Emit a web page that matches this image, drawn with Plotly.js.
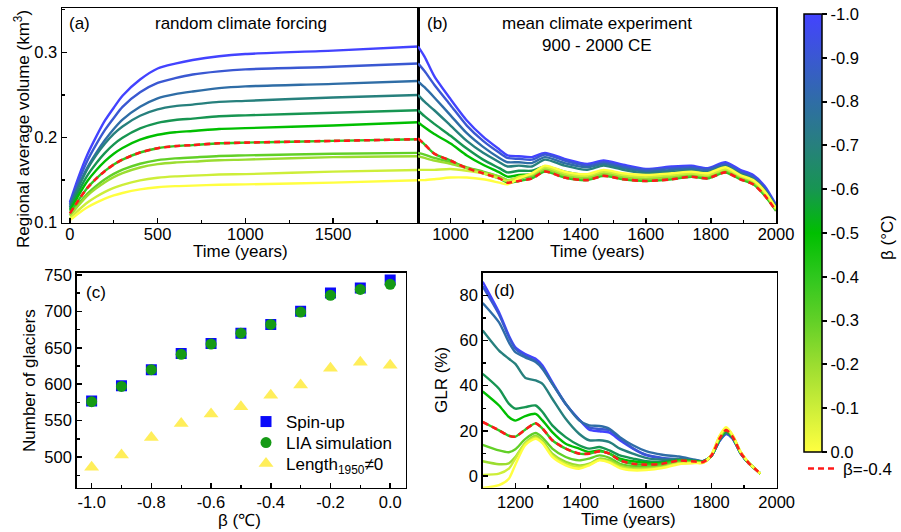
<!DOCTYPE html>
<html><head><meta charset="utf-8">
<script src="https://cdn.plot.ly/plotly-3.0.1.min.js"></script>
<style>html,body{margin:0;padding:0;background:#fff;}#plot{width:901px;height:532px;}</style>
</head><body><div id="plot"></div>
<script>
// ---- categories / colours ----
const betas = [-1.0,-0.9,-0.8,-0.7,-0.6,-0.5,-0.4,-0.3,-0.2,-0.1,0.0];
const betaLabels = ['-1.0','-0.9','-0.8','-0.7','-0.6','-0.5','-0.4','-0.3','-0.2','-0.1','0.0'];
const lineColors = ['#4343ff','#3a58d2','#2f6da6','#27807d','#179552','#00bf00','#2fc71e','#62d027','#9bdd30','#cdee39','#ffff40'];

// ---- panel (a): random climate forcing ----
const timeA = [0,50,100,150,200,250,300,400,500,600,700,850,1000,1500,2000];
const volA_m10 = [.124,.154,.180,.201,.220,.235,.249,.268,.281,.2867,.291,.2954,.298,.302,.307];
const volA_m09 = [.122,.149,.173,.192,.209,.223,.236,.253,.264,.2697,.274,.2776,.280,.283,.287];
const volA_m08 = [.120,.144,.165,.182,.197,.210,.221,.236,.246,.2509,.254,.2579,.260,.263,.2665];
const volA_m07 = [.118,.1418,.163,.1793,.193,.2043,.213,.2255,.233,.2368,.2386,.2418,.243,.247,.250];
const volA_m06 = [.116,.1369,.1556,.1699,.182,.1919,.1996,.2106,.2172,.2205,.2222,.2249,.226,.229,.232];
const volA_m05 = [.114,.1324,.1489,.1615,.1722,.1809,.1877,.1974,.2032,.2062,.2076,.2100,.211,.214,.218];
const volA_m04 = [.111,.1268,.1409,.1517,.1608,.1683,.1741,.1824,.1874,.1899,.1911,.1932,.194,.196,.198];
const volA_m03 = [.109,.1223,.1342,.1433,.151,.1573,.1622,.1692,.1734,.1755,.1766,.1783,.179,.181,.182];
const volA_m02 = [.108,.1205,.1318,.1403,.1476,.1535,.1582,.1648,.1687,.1707,.1717,.1733,.174,.177,.178];
const volA_m01 = [.105,.1149,.1237,.1305,.1362,.1409,.1445,.1497,.1528,.1544,.1552,.1565,.157,.160,.162];
const volA_p00 = [.103,.111,.1181,.1236,.1282,.132,.1349,.1391,.1416,.1429,.1435,.1446,.145,.147,.150];
const volA = [volA_m10,volA_m09,volA_m08,volA_m07,volA_m06,volA_m05,volA_m04,volA_m03,volA_m02,volA_m01,volA_p00];

// ---- panel (b): mean climate experiment 900-2000 CE ----
const yearB = [900,920,950,1000,1050,1100,1150,1175,1210,1250,1290,1350,1420,1470,1530,1600,1680,1740,1790,1845,1890,1930,1965,2000];
const volB_m10 = [.307,.295,.272,.245,.220,.201,.186,.179,.178,.177,.182,.175,.169,.173,.168,.163,.166,.167,.164,.171,.162,.156,.143,.121];
const volB_m09 = [.287,.278,.262,.238,.214,.196,.182,.176,.175,.174,.180,.173,.167,.171,.166,.162,.164,.165,.163,.169,.160,.154,.141,.120];
const volB_m08 = [.266,.259,.247,.226,.205,.189,.176,.171,.171,.170,.177,.170,.165,.169,.164,.160,.162,.163,.161,.167,.158,.152,.139,.119];
const volB_m07 = [.250,.242,.232,.214,.196,.182,.171,.166,.167,.166,.174,.167,.162,.167,.162,.158,.160,.161,.159,.166,.157,.151,.138,.118];
const volB_m06 = [.232,.225,.216,.202,.187,.174,.164,.159,.161,.161,.166,.160,.156,.161,.156,.152,.154,.157,.155,.162,.154,.148,.135,.116];
const volB_m05 = [.218,.212,.204,.193,.179,.168,.159,.154,.156,.157,.163,.156,.154,.159,.154,.150,.152,.155,.153,.160,.152,.146,.133,.115];
const volB_m04 = [.199,.192,.181,.173,.164,.158,.152,.147,.149,.152,.160,.153,.150,.155,.151,.149,.151,.154,.152,.159,.151,.145,.132,.114];
const volB_m03 = [.182,.180,.176,.171,.165,.160,.154,.150,.152,.155,.162,.155,.152,.157,.153,.151,.153,.156,.154,.161,.153,.147,.134,.115];
const volB_m02 = [.178,.176,.173,.169,.164,.159,.154,.150,.153,.156,.163,.156,.153,.158,.154,.152,.154,.157,.155,.162,.154,.148,.135,.116];
const volB_m01 = [.162,.162,.162,.163,.161,.158,.152,.149,.154,.157,.165,.158,.155,.160,.156,.154,.156,.158,.156,.163,.155,.149,.136,.116];
const volB_p00 = [.150,.150,.151,.153,.153,.151,.147,.145,.152,.158,.167,.160,.157,.162,.158,.156,.158,.160,.158,.165,.156,.150,.137,.117];
const volB = [volB_m10,volB_m09,volB_m08,volB_m07,volB_m06,volB_m05,volB_m04,volB_m03,volB_m02,volB_m01,volB_p00];

// ---- panel (c): number of glaciers ----
const spinUp   = [577,598,620,642,656,670,682,700,725,732,743];
const liaSim   = [576,597,620,641,655,670,682,699,722,730,737];
const length1950 = [486,503,527,546,559,569,585,599,622,630,626];
const legendNames = ['Spin-up','LIA simulation','Length<sub>1950</sub>≠0'];

// ---- panel (d): GLR (%) ----
const yearD = [1100,1150,1180,1200,1230,1262,1283,1313,1354,1395,1426,1457,1488,1520,1560,1600,1650,1700,1750,1775,1800,1825,1845,1865,1890,1915,1935,1950];
const glr_m10 = [86,72.5,62.2,57,54,51.9,48.9,41.5,32,25,20.5,19.8,19.2,15.8,12.1,9.2,7.8,7.3,6.8,6.5,8.8,15.5,18.6,16.5,9.8,5.5,3.0,1.0];
const glr_m09 = [84,71.5,61.5,56.3,53.2,51,48,41,31.8,25,21.5,20.8,20.3,16.6,12.3,9.4,8.0,7.4,6.8,6.5,8.8,15.6,18.7,16.6,9.9,5.5,3.0,1.0];
const glr_m08 = [76.6,68,59.2,54.8,52.5,50.4,47.4,40.8,32,24.6,22.4,22.1,20.9,17.2,13.6,11.0,9.4,8.6,7.2,6.6,8.8,15.8,18.9,16.8,10,5.6,3.0,1.0];
const glr_m07 = [64.4,55.5,51.9,49.6,43.5,42.3,40.8,34.2,25.3,18.7,15.8,15.8,15,12.1,9.9,8.0,7.2,7.4,6.8,6.4,8.9,16,19.3,17,10,5.6,3.0,0.9];
const glr_m06 = [45.2,38.6,32,29.8,30.5,31.2,28.3,22.4,17.2,13.6,12.1,12.8,11.3,9.1,7.7,6.5,6.2,7.0,6.6,6.3,9.0,16.2,19.8,17.2,10.1,5.6,3.0,0.9];
const glr_m05 = [37.4,31.2,26.1,24.5,26.5,27.5,24.6,19.4,14.3,12.1,10.6,11.3,9.9,7.7,6.5,5.8,5.8,6.9,6.5,6.3,9.0,16.4,20.1,17.3,10.2,5.6,3.0,0.9];
const glr_m04 = [23.9,20.2,17.8,17.4,20.5,23.3,21,15.8,12.1,9.9,9.9,10.9,9.9,6.9,5.4,5.0,5.4,6.8,6.4,6.2,9.0,16.5,20.3,17.4,10.2,5.6,3.0,1.0];
const glr_m03 = [13.8,11.3,10.5,11.8,16.3,19,17,12.1,8.4,6.9,7.7,9.1,8.0,5.4,4.4,4.2,4.8,6.2,6.1,6.1,9.1,16.8,20.6,17.6,10.3,5.7,3.0,1.0];
const glr_m02 = [6.5,5.2,5.6,8.4,14.5,17.8,15.5,9.9,6.2,4.7,5.4,7.7,6.9,4.7,3.5,3.5,4.2,5.8,5.9,6.0,9.2,17.2,21.0,17.8,10.4,5.7,3.0,1.0];
const glr_m01 = [0.5,1.0,3.2,7.7,14.3,17.0,14.8,9.1,5.4,4.0,5.0,7.2,6.2,4.0,2.9,3.0,3.8,5.5,5.8,5.9,9.3,17.5,21.3,18.0,10.5,5.8,3.0,1.0];
const glr_p00 = [-5.3,-4.1,-1.2,5.0,13.6,16.5,14.5,8.4,4.7,3.2,4.7,6.9,5.9,3.5,2.5,2.6,3.5,5.2,5.7,5.8,9.4,17.8,21.6,18.2,10.6,5.8,3.0,1.0];
const glrD = [glr_m10,glr_m09,glr_m08,glr_m07,glr_m06,glr_m05,glr_m04,glr_m03,glr_m02,glr_m01,glr_p00];

const REF_IDX = 6; // beta = -0.4
const FONT = 'Liberation Sans, Arial, Helvetica, sans-serif';
const W = 901, H = 532;
const px = v => v / W, py = v => 1 - v / H;

const traces = [];
function addLines(xs, ys, xa, ya) {
  ys.forEach((y, i) => traces.push({type:'scatter', mode:'lines', x:xs, y:y, xaxis:xa, yaxis:ya,
    line:{color:lineColors[i], width:2.4, shape:'spline', smoothing:0.7}, showlegend:false, hoverinfo:'skip'}));
  traces.push({type:'scatter', mode:'lines', x:xs, y:ys[REF_IDX], xaxis:xa, yaxis:ya,
    line:{color:'#ff1a1a', width:2.6, dash:'6px,4px', shape:'spline', smoothing:0.7},
    name:'β=-0.4', legend:'legend2', showlegend: xa === 'x', hoverinfo:'skip'});
}
addLines(timeA, volA, 'x', 'y');
addLines(yearB, volB, 'x2', 'y2');
addLines(yearD, glrD, 'x4', 'y4');

traces.push({type:'scatter', mode:'markers', x:betas, y:spinUp, xaxis:'x3', yaxis:'y3', name:legendNames[0], legend:'legend',
  marker:{symbol:'square', size:11, color:'#0a0afa'}});
traces.push({type:'scatter', mode:'markers', x:betas, y:liaSim, xaxis:'x3', yaxis:'y3', name:legendNames[1], legend:'legend3',
  marker:{symbol:'circle', size:11, color:'#159a15'}});
traces.push({type:'scatter', mode:'markers', x:betas, y:length1950, xaxis:'x3', yaxis:'y3', name:legendNames[2], legend:'legend4',
  marker:{symbol:'triangle-up', size:13, color:'#ffee5a'}});

// colour bar (z = -beta so -1.0 sits at the top)
const cscale = lineColors.map((c, i) => [ -betas[i], c ]).reverse();
traces.push({type:'scatter', mode:'markers', x:[null], y:[null], xaxis:'x', yaxis:'y', showlegend:false, hoverinfo:'skip',
  marker:{color:[0], cmin:0, cmax:1, colorscale:cscale, showscale:true,
    colorbar:{x:px(804), xanchor:'left', y:py(14), yanchor:'top', len:(452-14)/H, lenmode:'fraction',
      thickness:18, thicknessmode:'pixels', xpad:0, ypad:0, outlinewidth:1.5, outlinecolor:'black',
      ticks:'outside', ticklen:5, tickwidth:2, tickcolor:'black',
      tickmode:'array', tickvals:betas.map(b => -b), ticktext:betaLabels,
      tickfont:{size:16.5, family:FONT, color:'black'}}}});

const base = {showline:true, linecolor:'black', linewidth:1.5, mirror:true, ticks:'inside', ticklen:5,
  tickwidth:1.5, tickcolor:'black', showgrid:false, zeroline:false,
  tickfont:{size:16.5, family:FONT, color:'black'}};
const minor = d => ({dtick:d, ticks:'inside', ticklen:3, tickwidth:1.3, tickcolor:'black', showgrid:false});

const topDom = [py(222.7), py(8)];
const botDom = [py(487.7), py(272.7)];
const legFont = {size:17, family:FONT, color:'black'};
const legBase = {xanchor:'left', yanchor:'top', bgcolor:'rgba(0,0,0,0)', borderwidth:0, font:legFont};

const layout = {
  width:W, height:H, margin:{l:0, r:0, t:0, b:0}, paper_bgcolor:'white', plot_bgcolor:'white',
  font:{family:FONT, size:17, color:'black'},
  xaxis: Object.assign({}, base, {domain:[px(62), px(418)], anchor:'y', range:[-45, 1984], tick0:0, dtick:500,
    minor:minor(250), ticklabelstandoff:-4}),
  yaxis: Object.assign({}, base, {domain:topDom, anchor:'x', range:[0.1, 0.352], dtick:0.1, tick0:0, tickformat:'.1f',
    minor:minor(0.05)}),
  xaxis2: Object.assign({}, base, {domain:[px(418), px(776)], anchor:'y2', range:[900, 2000], dtick:200, tick0:0,
    minor:minor(100), ticklabelstandoff:-4}),
  yaxis2: Object.assign({}, base, {domain:topDom, anchor:'x2', matches:'y', showticklabels:false, ticks:''}),
  xaxis3: Object.assign({}, base, {domain:[px(76.7), px(405.7)], anchor:'y3', range:[-1.05, 0.052],
    tickmode:'array', tickvals:betas.filter((b, i) => i % 2 === 0), ticktext:betaLabels.filter((b, i) => i % 2 === 0),
    minor:{tickmode:'array', tickvals:betas, ticks:'inside', ticklen:3, tickwidth:1.3, tickcolor:'black', showgrid:false},
    ticklabelstandoff:-1}),
  yaxis3: Object.assign({}, base, {domain:botDom, anchor:'x3', range:[458, 753], dtick:50, tick0:0,
    minor:minor(25)}),
  xaxis4: Object.assign({}, base, {domain:[px(482.7), px(776.7)], anchor:'y4', range:[1100, 2000], dtick:200, tick0:0,
    minor:minor(100), ticklabelstandoff:-1}),
  yaxis4: Object.assign({}, base, {domain:botDom, anchor:'x4', range:[-5.2, 90], dtick:20, tick0:0,
    minor:minor(10)}),
  legend: Object.assign({x:px(246), y:py(404)}, legBase),
  legend3: Object.assign({x:px(246), y:py(425)}, legBase),
  legend4: Object.assign({x:px(246), y:py(446)}, legBase),
  legend2: Object.assign({x:px(803), y:py(451)}, legBase),
  annotations:[
    {text:'(a)', x:px(67), y:py(23), xanchor:'left', yanchor:'middle'},
    {text:'random climate forcing', x:px(241), y:py(23), xanchor:'center', yanchor:'middle'},
    {text:'(b)', x:px(425), y:py(23), xanchor:'left', yanchor:'middle'},
    {text:'mean climate experiment', x:px(597), y:py(23), xanchor:'center', yanchor:'middle'},
    {text:'900 - 2000 CE', x:px(597), y:py(45), xanchor:'center', yanchor:'middle'},
    {text:'(c)', x:px(84), y:py(292), xanchor:'left', yanchor:'middle'},
    {text:'(d)', x:px(492), y:py(290), xanchor:'left', yanchor:'middle'},
    {text:'Regional average volume (km<sup>3</sup>)', x:px(22), y:py(129), xanchor:'center', yanchor:'middle', textangle:-90},
    {text:'Time (years)', x:px(240), y:py(252), xanchor:'center', yanchor:'middle'},
    {text:'Time (years)', x:px(597), y:py(252), xanchor:'center', yanchor:'middle'},
    {text:'Number of glaciers', x:px(29), y:py(381), xanchor:'center', yanchor:'middle', textangle:-90},
    {text:'β (℃)', x:px(239), y:py(520), xanchor:'center', yanchor:'middle'},
    {text:'GLR (%)', x:px(441.5), y:py(380.5), xanchor:'center', yanchor:'middle', textangle:-90},
    {text:'Time (years)', x:px(628), y:py(519), xanchor:'center', yanchor:'middle'},
    {text:'β (°C)', x:px(887), y:py(238), xanchor:'center', yanchor:'middle', textangle:-90}
  ].map(a => Object.assign({xref:'paper', yref:'paper', showarrow:false, font:{size:17, family:FONT, color:'black'}}, a))
};

Plotly.newPlot('plot', traces, layout, {displayModeBar:false, staticPlot:true});
</script>
</body></html>
